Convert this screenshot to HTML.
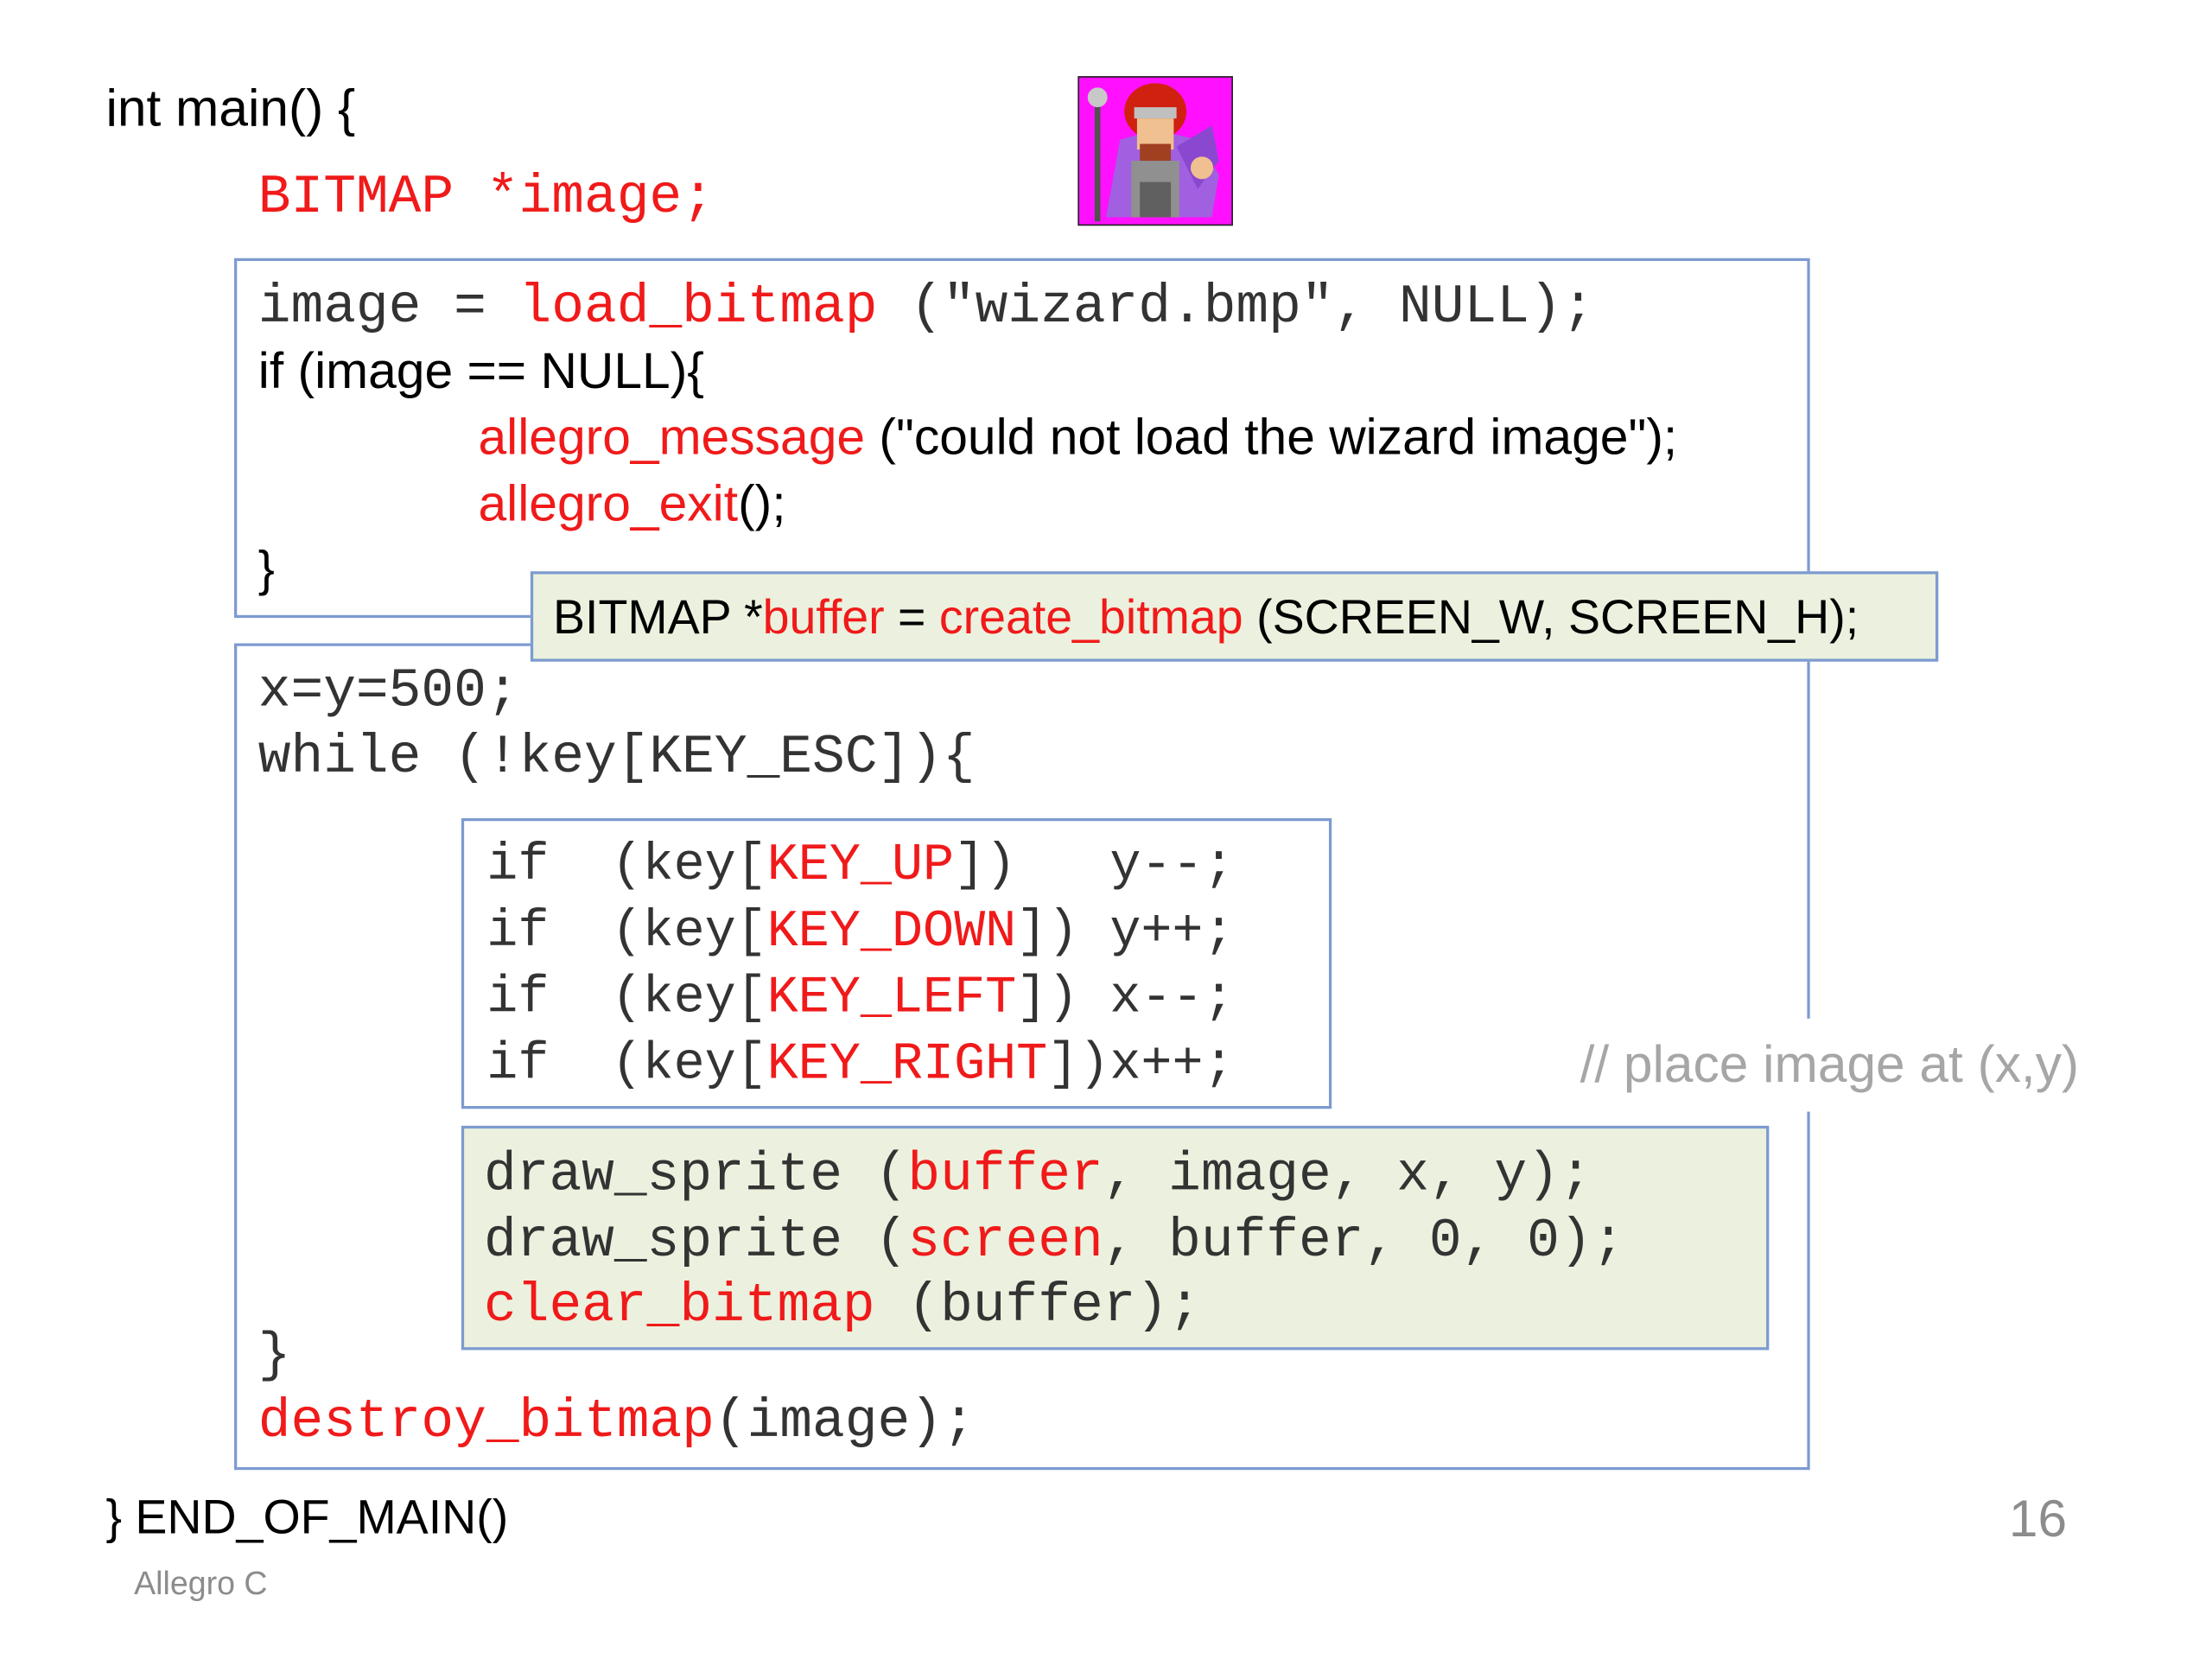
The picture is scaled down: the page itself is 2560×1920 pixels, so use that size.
<!DOCTYPE html>
<html><head><meta charset="utf-8"><style>
html,body{margin:0;padding:0;background:#fff;}
body{width:2560px;height:1920px;overflow:hidden;position:relative;}
#s{position:absolute;left:0;top:0;width:1568px;height:1176px;transform:scale(1.63265);transform-origin:0 0;}
.t{position:absolute;white-space:pre;line-height:40px;height:40px;}
.c{font-family:"Liberation Sans",sans-serif;font-size:35px;color:#000;}
.m{font-family:"Liberation Mono",monospace;font-size:38.5px;color:#333;margin-top:3px;}
.r{color:#f01a1a;}
.box{position:absolute;border:2px solid #7d9bd0;box-sizing:border-box;}
</style></head><body><div id="s">
<div class="t c" style="left:75px;top:57px;font-size:37px;">int main() {</div>
<div class="t m r" style="left:183px;top:117px;">BITMAP *image;</div>

<svg style="position:absolute;left:764px;top:54px" width="110" height="106" viewBox="0 0 110 106">
<rect x="0" y="0" width="110" height="106" fill="#ff10ff" stroke="#222" stroke-width="2"/>
<path d="M20 100 L30 45 L55 38 L85 45 L100 70 L95 100 Z" fill="#a060e0"/>
<path d="M70 50 L95 35 L100 60 L85 80 Z" fill="#8a48d0"/>
<ellipse cx="55" cy="25" rx="22" ry="20" fill="#d02010"/>
<rect x="40" y="22" width="30" height="8" fill="#c0c0c0"/>
<rect x="42" y="30" width="26" height="22" fill="#f0c090"/>
<rect x="44" y="48" width="22" height="12" fill="#a04020"/>
<rect x="38" y="60" width="34" height="40" fill="#909090"/>
<rect x="44" y="75" width="22" height="25" fill="#606060"/>
<rect x="12" y="15" width="4" height="88" fill="#505050"/>
<circle cx="14" cy="15" r="7" fill="#c8c8c8"/>
<circle cx="88" cy="65" r="8" fill="#f0c090"/>
</svg>

<div class="box" style="left:166px;top:183px;width:1117px;height:255px;background:#fff;"></div>
<div class="t m" style="left:183px;top:195px;">image = <span class="r">load_bitmap</span> ("wizard.bmp", NULL);</div>
<div class="t c" style="left:183px;top:243px;font-size:36px;">if (image == NULL){</div>
<div class="t c" style="left:339px;top:290px;font-size:36px;"><span class="r">allegro_message</span> ("could not load the wizard image");</div>
<div class="t c" style="left:339px;top:337px;font-size:36px;"><span class="r">allegro_exit</span>();</div>
<div class="t c" style="left:183px;top:384px;">}</div>

<div class="box" style="left:166px;top:456px;width:1117px;height:586px;"></div>
<div class="box" style="left:376px;top:405px;width:998px;height:64px;background:#ebf1de;"></div>
<div class="t c" style="left:392px;top:418px;font-size:34px;">BITMAP *<span class="r">buffer</span> = <span class="r">create_bitmap</span> (SCREEN_W, SCREEN_H);</div>

<div class="t m" style="left:183px;top:467px;">x=y=500;</div>
<div class="t m" style="left:183px;top:514px;">while (!key[KEY_ESC]){</div>

<div class="box" style="left:327px;top:580px;width:617px;height:206px;background:#fff;"></div>
<div class="t m" style="left:345px;top:591px;font-size:36.8px;">if  (key[<span class="r">KEY_UP</span>])   y--;</div>
<div class="t m" style="left:345px;top:638px;font-size:36.8px;">if  (key[<span class="r">KEY_DOWN</span>]) y++;</div>
<div class="t m" style="left:345px;top:685px;font-size:36.8px;">if  (key[<span class="r">KEY_LEFT</span>]) x--;</div>
<div class="t m" style="left:345px;top:732px;font-size:36.8px;">if  (key[<span class="r">KEY_RIGHT</span>])x++;</div>

<div style="position:absolute;left:1112px;top:722px;width:362px;height:66px;background:#fff;"></div>
<div class="t c" style="left:1120px;top:735px;color:#a6a6a6;font-size:37px;">// place image at (x,y)</div>

<div class="box" style="left:327px;top:798px;width:927px;height:159px;background:#ebf1de;"></div>
<div class="t m" style="left:343px;top:810px;">draw_sprite (<span class="r">buffer</span>, image, x, y);</div>
<div class="t m" style="left:343px;top:857px;">draw_sprite (<span class="r">screen</span>, buffer, 0, 0);</div>
<div class="t m" style="left:343px;top:903px;"><span class="r">clear_bitmap</span> (buffer);</div>

<div class="t m" style="left:183px;top:938px;">}</div>
<div class="t m" style="left:183px;top:985px;"><span class="r">destroy_bitmap</span>(image);</div>

<div class="t c" style="left:75px;top:1056px;font-size:34px;">} END_OF_MAIN()</div>
<div class="t c" style="left:1424px;top:1057px;color:#8c8c8c;font-size:37px;">16</div>
<div class="t c" style="left:95px;top:1102px;color:#8c8c8c;font-size:23px;">Allegro C</div>
</div></body></html>
